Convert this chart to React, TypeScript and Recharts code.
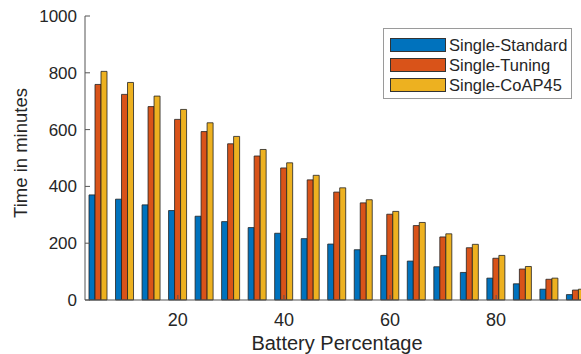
import React from "react";
import { BarChart, Bar, XAxis, YAxis, Legend } from "recharts";

// battery percentage (x) and time in minutes for each configuration
const battery = [5, 10, 15, 20, 25, 30, 35, 40, 45, 50, 55, 60, 65, 70, 75, 80, 85, 90, 95];
const singleStandard = [370, 355, 335, 315, 295, 276, 255, 235, 216, 197, 177, 157, 137, 117, 97, 77, 57, 38, 19];
const singleTuning = [759, 724, 681, 636, 593, 550, 507, 465, 423, 380, 342, 302, 262, 222, 184, 147, 109, 73, 35];
const singleCoAP45 = [805, 766, 718, 671, 624, 576, 530, 483, 439, 395, 353, 312, 273, 233, 196, 157, 118, 77, 38];

const xTicks = [20, 40, 60, 80];
const yTicks = [0, 200, 400, 600, 800, 1000];

const series = [
  { key: "standard", name: "Single-Standard", color: "#0072BD" },
  { key: "tuning", name: "Single-Tuning", color: "#D95319" },
  { key: "coap", name: "Single-CoAP45", color: "#EDB120" },
];

const data = battery.map((b, i) => ({
  battery: b,
  standard: singleStandard[i],
  tuning: singleTuning[i],
  coap: singleCoAP45[i],
}));

const FONT = "'Liberation Sans', Arial, sans-serif";
const TEXT = "#262626";
const AXIS = "#555555";

const BottomTick = (props: any) => {
  const { x, y, payload } = props;
  const axisY = y - 13;
  return (
    <g>
      <line x1={x} x2={x} y1={axisY} y2={axisY - 5} stroke={AXIS} />
      <text x={x} y={y} dy="0.71em" textAnchor="middle" fontSize={18} fill={TEXT} fontFamily={FONT}>
        {payload.value}
      </text>
    </g>
  );
};

const TopTick = (props: any) => {
  const { x, y } = props;
  return <line x1={x} x2={x} y1={y} y2={y + 5} stroke={AXIS} />;
};

const LeftTick = (props: any) => {
  const { x, y, payload } = props;
  const axisX = x + 8;
  return (
    <g>
      <line x1={axisX} x2={axisX + 5} y1={y} y2={y} stroke={AXIS} />
      <text x={x} y={y} dy="0.355em" textAnchor="end" fontSize={17} fill={TEXT} fontFamily={FONT}>
        {payload.value}
      </text>
    </g>
  );
};

const renderLegend = () => (
  <div
    style={{
      border: "1px solid #9a9a9a",
      background: "#fff",
      padding: "6px 4px 3px 6px",
      fontFamily: FONT,
      fontSize: 16.5,
      color: TEXT,
    }}
  >
    {series.map((s) => (
      <div key={s.key} style={{ display: "flex", alignItems: "center", height: 20 }}>
        <div
          style={{
            width: 54,
            height: 12,
            background: s.color,
            border: "1px solid #333",
            marginRight: 3,
          }}
        />
        <span>{s.name}</span>
      </div>
    ))}
  </div>
);

export default function App() {
  return (
    <div style={{ position: "fixed", left: 0, top: 0, background: "#fff" }}>
      <BarChart
        width={581}
        height={354}
        data={data}
        margin={{ top: 16, right: 0, bottom: 0, left: 0 }}
        barGap={0}
        barSize={6}
      >
        <XAxis
          dataKey="battery"
          type="number"
          domain={[2.5, 96]}
          allowDataOverflow
          ticks={xTicks}
          height={54}
          tickSize={0}
          tickMargin={13}
          axisLine={{ stroke: AXIS }}
          tick={<BottomTick />}
          label={{
            content: ({ viewBox }: any) => (
              <text
                x={viewBox.x + viewBox.width / 2 + 4}
                y={350}
                textAnchor="middle"
                fontSize={20}
                fill={TEXT}
                fontFamily={FONT}
              >
                Battery Percentage
              </text>
            ),
          }}
        />
        <XAxis
          xAxisId="top"
          dataKey="battery"
          type="number"
          orientation="top"
          domain={[2.5, 96]}
          allowDataOverflow
          ticks={xTicks}
          height={0}
          tickSize={0}
          tickMargin={0}
          axisLine={{ stroke: AXIS }}
          tick={<TopTick />}
        />
        <YAxis
          type="number"
          domain={[0, 1000]}
          ticks={yTicks}
          width={85}
          tickSize={0}
          tickMargin={8}
          axisLine={{ stroke: AXIS }}
          tick={<LeftTick />}
          label={{
            content: ({ viewBox }: any) => (
              <text
                x={0}
                y={0}
                transform={`translate(27, ${viewBox.y + viewBox.height / 2 - 5}) rotate(-90)`}
                textAnchor="middle"
                fontSize={18.5}
                fill={TEXT}
                fontFamily={FONT}
              >
                Time in minutes
              </text>
            ),
          }}
        />
        <Legend
          content={renderLegend}
          layout="horizontal"
          verticalAlign="middle"
          wrapperStyle={{ position: "absolute", top: 28, left: 383, width: "auto" }}
        />
        {series.map((s) => (
          <Bar
            key={s.key}
            dataKey={s.key}
            name={s.name}
            fill={s.color}
            stroke="#222"
            strokeWidth={0.8}
            isAnimationActive={false}
          />
        ))}
      </BarChart>
    </div>
  );
}
